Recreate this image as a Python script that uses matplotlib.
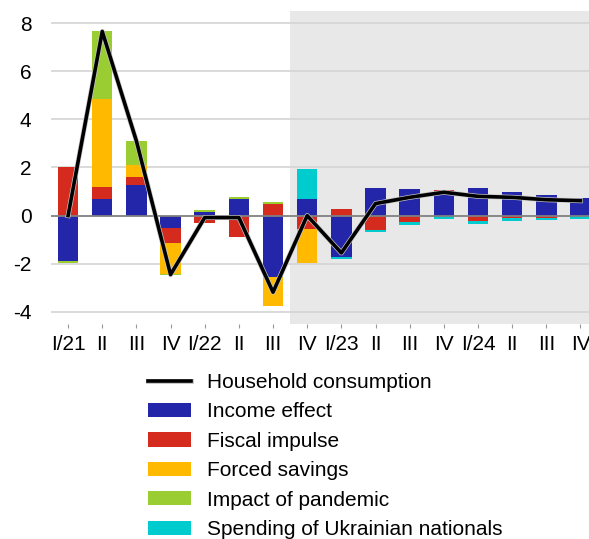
import matplotlib
matplotlib.use("Agg")
import matplotlib.pyplot as plt
import matplotlib.patheffects as pe
import numpy as np

plt.rcParams['font.family'] = ['Liberation Sans', 'DejaVu Sans']
plt.rcParams['axes.unicode_minus'] = False

quarters = ["I/21", "II", "III", "IV", "I/22", "II", "III", "IV",
            "I/23", "II", "III", "IV", "I/24", "II", "III", "IV"]

income = [-1.87, 0.70, 1.26, -0.50, 0.17, 0.70, -2.56, 0.70,
          -1.70, 1.16, 1.12, 1.00, 1.16, 1.00, 0.87, 0.75]
fiscal = [2.00, 0.50, 0.36, -0.62, -0.32, -0.90, 0.50, -0.54,
          0.29, -0.58, -0.25, 0.08, -0.21, -0.08, -0.08, 0.00]
forced = [0.00, 3.63, 0.50, -1.29, 0.00, 0.00, -1.20, -1.41,
          0.00, 0.00, 0.00, 0.00, 0.00, 0.00, 0.00, 0.00]
pandemic = [-0.11, 2.85, 0.99, -0.04, 0.08, 0.08, 0.08, 0.00,
            0.00, 0.00, 0.00, 0.00, 0.00, 0.00, 0.00, 0.00]
ukrainian = [0.00, 0.00, 0.00, 0.00, 0.00, 0.00, 0.00, 1.25,
             -0.12, -0.12, -0.12, -0.12, -0.12, -0.13, -0.09, -0.12]
consumption = [0.00, 7.65, 3.10, -2.45, -0.08, -0.08, -3.18, 0.00,
               -1.55, 0.50, 0.76, 0.97, 0.80, 0.76, 0.66, 0.62]

series = [
    ("Income effect", income, "#2326a8"),
    ("Fiscal impulse", fiscal, "#d52b1f"),
    ("Forced savings", forced, "#ffba00"),
    ("Impact of pandemic", pandemic, "#9acd32"),
    ("Spending of Ukrainian nationals", ukrainian, "#00ccd0"),
]

fig = plt.figure(figsize=(5.89, 5.39), dpi=100)
ax = fig.add_axes([0.0866, 0.399, 0.9134, 0.5806])

x = np.arange(len(quarters))
# projection period shading
ax.axvspan(6.5, 20, color="#e8e8e8", zorder=0, lw=0)

for yv in [-4, -2, 2, 4, 6, 8]:
    ax.axhline(yv, color="#d4d4d4", lw=1.2, zorder=1)
ax.axhline(0, color="#808080", lw=1.3, zorder=3)

pos = np.zeros(len(x))
neg = np.zeros(len(x))
handles = []
for name, vals, col in series:
    v = np.array(vals)
    bottom = np.where(v >= 0, pos, neg)
    b = ax.bar(x, v, 0.6, bottom=bottom, color=col, label=name, zorder=2, lw=0)
    handles.append(b)
    pos = pos + np.where(v >= 0, v, 0)
    neg = neg + np.where(v < 0, v, 0)

line, = ax.plot(x, consumption, color="black", lw=2.6, zorder=4,
                label="Household consumption",
                path_effects=[pe.Stroke(linewidth=3.6, foreground="#c8c8c8"), pe.Normal()])

ax.set_xlim(-0.5, 15.25)
ax.set_ylim(-4.5, 8.5)
ax.set_yticks([-4, -2, 0, 2, 4, 6, 8])
ax.set_xticks(x)
ax.set_xticklabels(quarters)
ax.tick_params(axis="y", length=0, labelsize=15, pad=14)
ax.tick_params(axis="x", length=3, color="#999999", labelsize=15, pad=5)
for s in ax.spines.values():
    s.set_visible(False)

fig.legend([line] + handles,
           ["Household consumption"] + [s[0] for s in series],
           loc="upper left", bbox_to_anchor=(148 / 589, 1 - 373 / 539),
           frameon=False, fontsize=15, borderpad=0, borderaxespad=0,
           handlelength=2.05, handleheight=0.67, handletextpad=0.78,
           labelspacing=0.5)

fig.savefig("out.png", dpi=100)
